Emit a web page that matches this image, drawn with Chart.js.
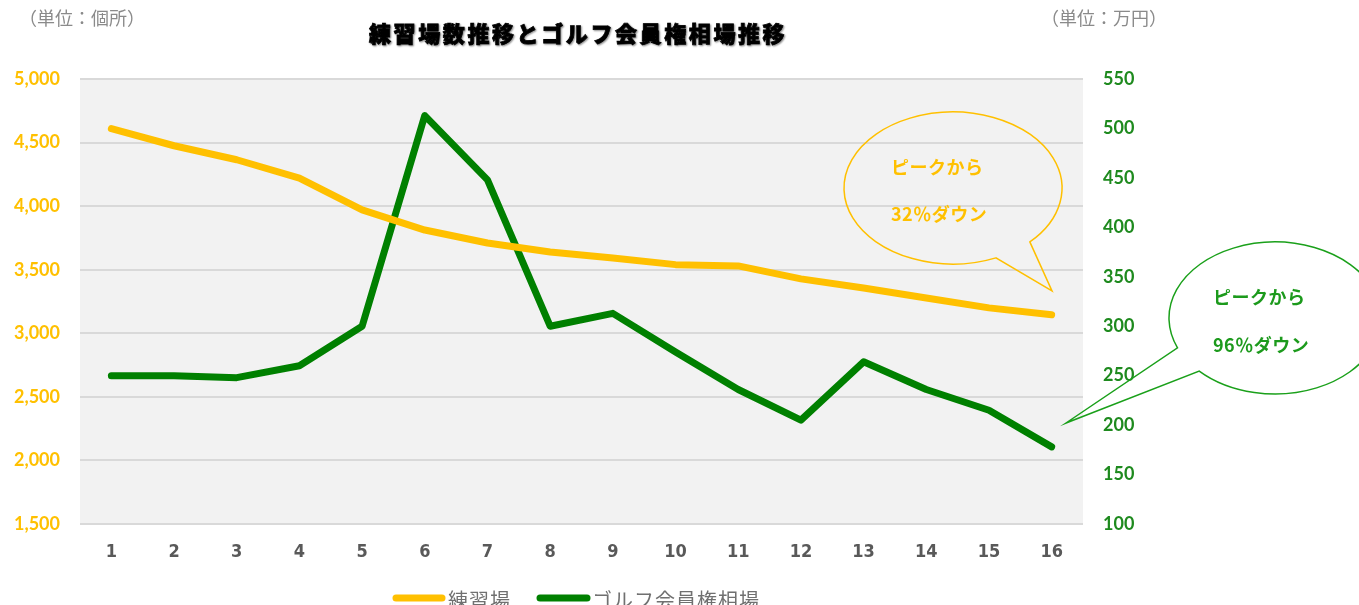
<!DOCTYPE html>
<html><head><meta charset="utf-8">
<script src="https://cdn.jsdelivr.net/npm/chart.js@4/dist/chart.umd.min.js"></script>
<style>html,body{margin:0;padding:0;background:#fff;overflow:hidden}#wrap{width:1359px;height:605px;position:relative}</style>
</head><body><div id="wrap"><canvas id="c"></canvas></div>
<script>
const categories = ['1','2','3','4','5','6','7','8','9','10','11','12','13','14','15','16'];
const rangeCounts = [4610,4475,4365,4220,3970,3812,3710,3640,3592,3540,3530,3428,3356,3278,3200,3145];
const memberPrices = [250,250,248,260,300,513,448,300,313,274,236,205,264,236,215,178];
const seriesNames = ['練習場','ゴルフ会員権相場'];
const titleText = '練習場数推移とゴルフ会員権相場推移';
const unitLeft = '（単位：個所）';
const unitRight = '（単位：万円）';
const calloutYellow = ['ピークから','32％ダウン'];
const calloutGreen = ['ピークから','96％ダウン'];

const YELLOW = '#FFC000', GREEN = '#008000', GREEN_TXT = '#1c9a1c';
const CJK = "'Noto Sans CJK JP', sans-serif";

function bubble(ctx, cx, cy, rx, ry, b1, b2, tip, color) {
  const ang = p => Math.atan2((p[1]-cy)/ry, (p[0]-cx)/rx);
  let a1 = ang(b1), a2 = ang(b2);
  let lo = Math.min(a1, a2), hi = Math.max(a1, a2);
  ctx.save();
  ctx.beginPath();
  ctx.ellipse(cx, cy, rx, ry, 0, hi, lo + 2*Math.PI);
  ctx.lineTo(tip[0], tip[1]);
  ctx.closePath();
  ctx.strokeStyle = color; ctx.lineWidth = 1.5;
  ctx.stroke();
  ctx.restore();
}

const deco = {
  id: 'deco',
  beforeDraw(chart) {
    const {ctx, chartArea: a} = chart;
    ctx.save();
    ctx.fillStyle = '#f2f2f2';
    ctx.fillRect(a.left, a.top, a.right - a.left, a.bottom - a.top + 1);
    ctx.restore();
  },
  afterDraw(chart) {
    const ctx = chart.ctx;
    ctx.save();
    ctx.fillStyle = '#8a8a8a';
    ctx.font = "18px " + CJK;
    ctx.textBaseline = 'middle';
    ctx.textAlign = 'left';
    ctx.fillText(unitLeft, 19, 18);
    ctx.fillText(unitRight, 1041, 18);
    // title
    ctx.font = "900 22px " + CJK;
    ctx.fillStyle = '#000';
    ctx.strokeStyle = '#000';
    ctx.lineWidth = 0.8;
    ctx.letterSpacing = '2.6px';
    ctx.shadowColor = 'rgba(0,0,0,0.4)';
    ctx.shadowBlur = 2; ctx.shadowOffsetX = 1; ctx.shadowOffsetY = 1;
    ctx.fillText(titleText, 369, 34);
    ctx.strokeText(titleText, 369, 34);
    ctx.restore();

    bubble(ctx, 953, 188, 109, 76, [1030,242], [996,258], [1052,291], YELLOW);
    bubble(ctx, 1275, 318, 106, 76, [1177,348], [1198,372], [1066,423], '#1aa01a');

    ctx.save();
    ctx.font = "bold 18px " + CJK;
    ctx.textBaseline = 'middle';
    ctx.fillStyle = YELLOW;
    ctx.letterSpacing = '0.5px';
    ctx.fillText(calloutYellow[0], 891, 167);
    ctx.fillText(calloutYellow[1], 891, 214);
    ctx.fillStyle = GREEN_TXT;
    ctx.fillText(calloutGreen[0], 1213, 297);
    ctx.fillText(calloutGreen[1], 1213, 345);
    ctx.restore();

    // legend
    const ds = chart.data.datasets;
    const legendItems = [{x0: 396, x1: 442, tx: 448}, {x0: 540, x1: 587, tx: 592}];
    ctx.save();
    ctx.font = "20px " + CJK;
    ctx.textBaseline = 'middle';
    ctx.letterSpacing = '1px';
    legendItems.forEach((it, i) => {
      ctx.beginPath();
      ctx.moveTo(it.x0, 598); ctx.lineTo(it.x1, 598);
      ctx.strokeStyle = ds[i].borderColor; ctx.lineWidth = 7; ctx.lineCap = 'round';
      ctx.stroke();
      ctx.fillStyle = '#707070';
      ctx.fillText(ds[i].label, it.tx, 600);
    });
    ctx.restore();
  }
};

new Chart(document.getElementById('c'), {
  type: 'line',
  data: {
    labels: categories,
    datasets: [
      {label: seriesNames[0], data: rangeCounts, yAxisID: 'y', borderColor: YELLOW, backgroundColor: YELLOW,
       borderWidth: 7, pointRadius: 0, tension: 0, borderCapStyle: 'round', borderJoinStyle: 'round'},
      {label: seriesNames[1], data: memberPrices, yAxisID: 'y1', borderColor: GREEN, backgroundColor: GREEN,
       borderWidth: 7, pointRadius: 0, tension: 0, borderCapStyle: 'round', borderJoinStyle: 'round'}
    ]
  },
  options: {
    responsive: true, maintainAspectRatio: false, animation: false,
    layout: {padding: {top: 79, left: 0, right: 0, bottom: 0}},
    plugins: {
      tooltip: {enabled: false},
      title: {display: false},
      legend: {display: false}
    },
    scales: {
      x: {
        offset: true,
        grid: {display: false, drawTicks: false},
        border: {display: false},
        ticks: {color: '#595959', font: {family: "'Liberation Sans Narrow','DejaVu Sans Condensed',sans-serif", size: 18, weight: 'bold'}, padding: 18},
        afterFit(s) { s.height = 81; }
      },
      y: {
        position: 'left', min: 1500, max: 5000,
        ticks: {stepSize: 500, color: YELLOW, padding: 20, font: {family: 'Lato, sans-serif', size: 18, weight: 'bold'},
                callback: v => v.toLocaleString('en-US')},
        grid: {color: '#d9d9d9', lineWidth: 2, drawTicks: false},
        border: {display: false},
        afterFit(s) { s.width = 80; }
      },
      y1: {
        position: 'right', min: 100, max: 550,
        ticks: {stepSize: 50, color: '#1e8a1e', padding: 20, font: {family: 'Lato, sans-serif', size: 18, weight: 'bold'}},
        grid: {display: false, drawTicks: false},
        border: {display: false},
        afterFit(s) { s.width = 276; }
      }
    }
  },
  plugins: [deco]
});
</script></body></html>
